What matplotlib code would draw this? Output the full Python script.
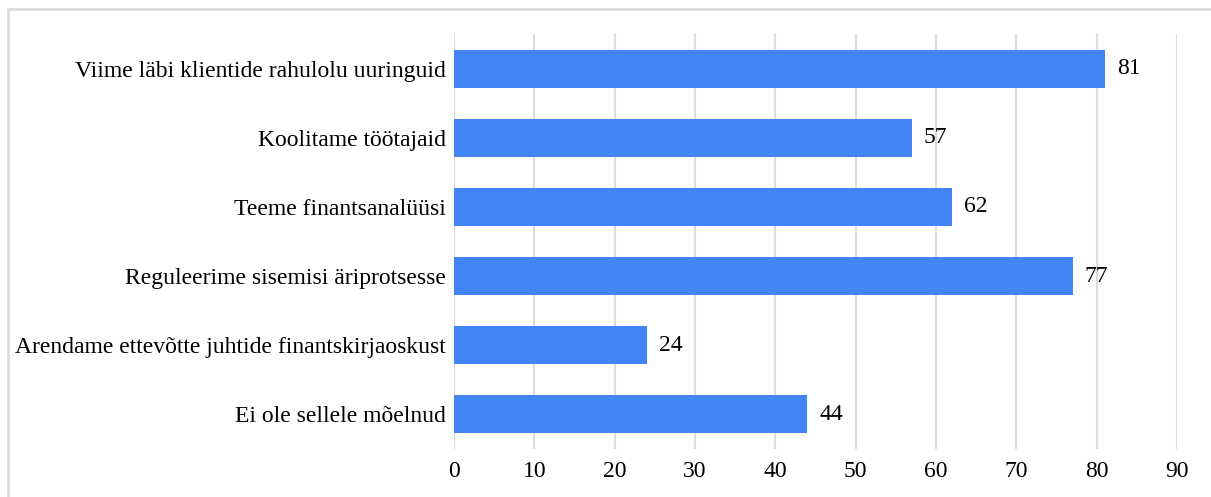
import matplotlib.pyplot as plt
from matplotlib.patches import Rectangle

categories = [
    "Viime läbi klientide rahulolu uuringuid",
    "Koolitame töötajaid",
    "Teeme finantsanalüüsi",
    "Reguleerime sisemisi äriprotsesse",
    "Arendame ettevõtte juhtide finantskirjaoskust",
    "Ei ole sellele mõelnud",
]
values = [81, 57, 62, 77, 24, 44]
x_ticks = [0, 10, 20, 30, 40, 50, 60, 70, 80, 90]

plt.rcParams['font.family'] = ['Liberation Serif', 'DejaVu Serif']

fig = plt.figure(figsize=(12.11, 4.97), dpi=100)
ax = fig.add_axes([0.3749, 0.0966, 0.5970, 0.8350])

y = list(range(len(categories)))
ax.barh(y, values, height=0.55, color='#4285F4', zorder=3)

for yi, v in zip(y, values):
    ax.text(v + 1.5, yi, str(v), va='center', ha='left', fontsize=17)

ax.set_xlim(0, 90)
ax.set_ylim(5.5, -0.5)
ax.set_xticks(x_ticks)
ax.set_yticks(y)
ax.set_yticklabels(categories, fontsize=17)
ax.tick_params(axis='x', labelsize=17, length=0, pad=9)
ax.tick_params(axis='y', length=0, pad=6)
ax.grid(axis='x', color='#dcdcdc', linewidth=1.5, zorder=0)

for s in ax.spines.values():
    s.set_visible(False)

# light frame around the chart area
fig.patches.append(Rectangle((8 / 1211, -0.1), 1.2, 1 - 9 / 497 + 0.1,
                             transform=fig.transFigure, fill=False,
                             edgecolor='#dcdcdc', linewidth=2))

fig.savefig('out.png', dpi=100)
